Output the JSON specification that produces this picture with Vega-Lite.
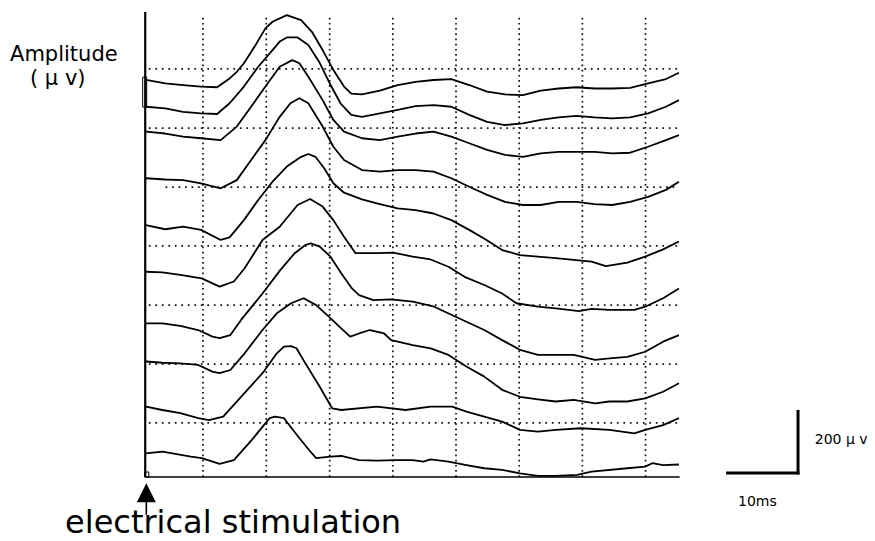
{
  "$schema": "https://vega.github.io/schema/vega-lite/v6.json",
  "width": 875,
  "height": 541,
  "autosize": {"type": "none"},
  "padding": 0,
  "background": "white",
  "config": {"view": {"stroke": null}},
  "datasets": {
    "traces": [
      {"trace": 1, "t": 0.1, "v": 1248}, {"trace": 1, "t": 2.76, "v": 1237}, {"trace": 1, "t": 5.22, "v": 1232}, {"trace": 1, "t": 7.68, "v": 1227}, {"trace": 1, "t": 9.9, "v": 1225}, {"trace": 1, "t": 11.62, "v": 1253}, {"trace": 1, "t": 12.61, "v": 1274}, {"trace": 1, "t": 13.59, "v": 1301}, {"trace": 1, "t": 15.07, "v": 1354}, {"trace": 1, "t": 16.55, "v": 1412}, {"trace": 1, "t": 17.53, "v": 1433}, {"trace": 1, "t": 19.5, "v": 1454}, {"trace": 1, "t": 21.47, "v": 1438}, {"trace": 1, "t": 22.95, "v": 1401}, {"trace": 1, "t": 24.43, "v": 1343}, {"trace": 1, "t": 25.91, "v": 1280}, {"trace": 1, "t": 27.38, "v": 1227}, {"trace": 1, "t": 28.37, "v": 1205}, {"trace": 1, "t": 29.85, "v": 1202}, {"trace": 1, "t": 32.31, "v": 1214}, {"trace": 1, "t": 34.77, "v": 1232}, {"trace": 1, "t": 37.23, "v": 1242}, {"trace": 1, "t": 39.7, "v": 1248}, {"trace": 1, "t": 42.16, "v": 1251}, {"trace": 1, "t": 44.62, "v": 1232}, {"trace": 1, "t": 47.08, "v": 1211}, {"trace": 1, "t": 49.55, "v": 1202}, {"trace": 1, "t": 52.01, "v": 1200}, {"trace": 1, "t": 54.47, "v": 1214}, {"trace": 1, "t": 56.93, "v": 1221}, {"trace": 1, "t": 59.4, "v": 1225}, {"trace": 1, "t": 61.86, "v": 1221}, {"trace": 1, "t": 64.32, "v": 1221}, {"trace": 1, "t": 66.78, "v": 1223}, {"trace": 1, "t": 69.25, "v": 1237}, {"trace": 1, "t": 71.71, "v": 1251}, {"trace": 1, "t": 73.5, "v": 1271},
      {"trace": 2, "t": 0.1, "v": 1163}, {"trace": 2, "t": 2.76, "v": 1158}, {"trace": 2, "t": 5.22, "v": 1147}, {"trace": 2, "t": 7.68, "v": 1142}, {"trace": 2, "t": 9.9, "v": 1140}, {"trace": 2, "t": 11.62, "v": 1174}, {"trace": 2, "t": 13.59, "v": 1227}, {"trace": 2, "t": 15.56, "v": 1290}, {"trace": 2, "t": 17.53, "v": 1343}, {"trace": 2, "t": 18.52, "v": 1370}, {"trace": 2, "t": 19.5, "v": 1383}, {"trace": 2, "t": 20.98, "v": 1383}, {"trace": 2, "t": 22.46, "v": 1359}, {"trace": 2, "t": 23.94, "v": 1306}, {"trace": 2, "t": 25.41, "v": 1237}, {"trace": 2, "t": 26.89, "v": 1174}, {"trace": 2, "t": 28.37, "v": 1137}, {"trace": 2, "t": 29.85, "v": 1131}, {"trace": 2, "t": 32.31, "v": 1142}, {"trace": 2, "t": 34.77, "v": 1153}, {"trace": 2, "t": 37.23, "v": 1165}, {"trace": 2, "t": 39.7, "v": 1168}, {"trace": 2, "t": 42.16, "v": 1163}, {"trace": 2, "t": 44.62, "v": 1137}, {"trace": 2, "t": 47.08, "v": 1115}, {"trace": 2, "t": 49.55, "v": 1105}, {"trace": 2, "t": 52.01, "v": 1110}, {"trace": 2, "t": 54.47, "v": 1121}, {"trace": 2, "t": 56.93, "v": 1129}, {"trace": 2, "t": 59.4, "v": 1134}, {"trace": 2, "t": 61.86, "v": 1129}, {"trace": 2, "t": 64.32, "v": 1126}, {"trace": 2, "t": 66.78, "v": 1129}, {"trace": 2, "t": 69.25, "v": 1142}, {"trace": 2, "t": 71.71, "v": 1163}, {"trace": 2, "t": 73.5, "v": 1184},
      {"trace": 3, "t": 0.1, "v": 1084}, {"trace": 3, "t": 2.76, "v": 1078}, {"trace": 3, "t": 5.22, "v": 1068}, {"trace": 3, "t": 7.68, "v": 1063}, {"trace": 3, "t": 10.39, "v": 1057}, {"trace": 3, "t": 12.61, "v": 1100}, {"trace": 3, "t": 14.58, "v": 1163}, {"trace": 3, "t": 16.55, "v": 1227}, {"trace": 3, "t": 18.52, "v": 1290}, {"trace": 3, "t": 20.24, "v": 1311}, {"trace": 3, "t": 21.23, "v": 1301}, {"trace": 3, "t": 22.46, "v": 1258}, {"trace": 3, "t": 24.43, "v": 1184}, {"trace": 3, "t": 25.91, "v": 1121}, {"trace": 3, "t": 27.38, "v": 1084}, {"trace": 3, "t": 29.85, "v": 1063}, {"trace": 3, "t": 32.31, "v": 1057}, {"trace": 3, "t": 34.77, "v": 1068}, {"trace": 3, "t": 37.23, "v": 1078}, {"trace": 3, "t": 39.7, "v": 1084}, {"trace": 3, "t": 42.16, "v": 1068}, {"trace": 3, "t": 44.62, "v": 1047}, {"trace": 3, "t": 47.08, "v": 1026}, {"trace": 3, "t": 49.55, "v": 1010}, {"trace": 3, "t": 52.01, "v": 1004}, {"trace": 3, "t": 54.47, "v": 1015}, {"trace": 3, "t": 56.93, "v": 1020}, {"trace": 3, "t": 59.4, "v": 1020}, {"trace": 3, "t": 61.86, "v": 1020}, {"trace": 3, "t": 64.32, "v": 1015}, {"trace": 3, "t": 66.78, "v": 1017}, {"trace": 3, "t": 69.25, "v": 1036}, {"trace": 3, "t": 71.71, "v": 1057}, {"trace": 3, "t": 73.5, "v": 1073},
      {"trace": 4, "t": 0.1, "v": 936}, {"trace": 4, "t": 2.76, "v": 932}, {"trace": 4, "t": 5.22, "v": 930}, {"trace": 4, "t": 7.68, "v": 920}, {"trace": 4, "t": 10.39, "v": 904}, {"trace": 4, "t": 12.61, "v": 930}, {"trace": 4, "t": 14.58, "v": 994}, {"trace": 4, "t": 16.55, "v": 1057}, {"trace": 4, "t": 18.52, "v": 1131}, {"trace": 4, "t": 20.0, "v": 1174}, {"trace": 4, "t": 21.23, "v": 1190}, {"trace": 4, "t": 22.46, "v": 1174}, {"trace": 4, "t": 24.43, "v": 1100}, {"trace": 4, "t": 25.91, "v": 1036}, {"trace": 4, "t": 27.38, "v": 994}, {"trace": 4, "t": 29.85, "v": 962}, {"trace": 4, "t": 32.31, "v": 957}, {"trace": 4, "t": 34.77, "v": 962}, {"trace": 4, "t": 37.23, "v": 962}, {"trace": 4, "t": 39.7, "v": 957}, {"trace": 4, "t": 42.16, "v": 936}, {"trace": 4, "t": 44.62, "v": 909}, {"trace": 4, "t": 47.08, "v": 883}, {"trace": 4, "t": 49.55, "v": 861}, {"trace": 4, "t": 52.01, "v": 851}, {"trace": 4, "t": 54.47, "v": 851}, {"trace": 4, "t": 56.93, "v": 861}, {"trace": 4, "t": 59.4, "v": 861}, {"trace": 4, "t": 61.86, "v": 854}, {"trace": 4, "t": 64.32, "v": 851}, {"trace": 4, "t": 66.78, "v": 861}, {"trace": 4, "t": 69.25, "v": 877}, {"trace": 4, "t": 71.71, "v": 899}, {"trace": 4, "t": 73.5, "v": 925},
      {"trace": 5, "t": 0.1, "v": 787}, {"trace": 5, "t": 2.76, "v": 774}, {"trace": 5, "t": 5.22, "v": 782}, {"trace": 5, "t": 7.68, "v": 772}, {"trace": 5, "t": 10.39, "v": 740}, {"trace": 5, "t": 11.62, "v": 748}, {"trace": 5, "t": 13.59, "v": 803}, {"trace": 5, "t": 15.56, "v": 867}, {"trace": 5, "t": 17.53, "v": 925}, {"trace": 5, "t": 19.5, "v": 973}, {"trace": 5, "t": 21.47, "v": 1004}, {"trace": 5, "t": 22.46, "v": 1013}, {"trace": 5, "t": 23.44, "v": 1004}, {"trace": 5, "t": 24.67, "v": 967}, {"trace": 5, "t": 25.91, "v": 920}, {"trace": 5, "t": 27.38, "v": 890}, {"trace": 5, "t": 29.85, "v": 869}, {"trace": 5, "t": 32.31, "v": 854}, {"trace": 5, "t": 34.77, "v": 840}, {"trace": 5, "t": 37.23, "v": 835}, {"trace": 5, "t": 39.7, "v": 824}, {"trace": 5, "t": 42.16, "v": 803}, {"trace": 5, "t": 44.62, "v": 772}, {"trace": 5, "t": 47.0, "v": 740}, {"trace": 5, "t": 49.15, "v": 708}, {"trace": 5, "t": 51.61, "v": 692}, {"trace": 5, "t": 56.54, "v": 682}, {"trace": 5, "t": 61.46, "v": 671}, {"trace": 5, "t": 63.43, "v": 657}, {"trace": 5, "t": 66.39, "v": 668}, {"trace": 5, "t": 68.85, "v": 687}, {"trace": 5, "t": 71.32, "v": 710}, {"trace": 5, "t": 73.5, "v": 735},
      {"trace": 6, "t": 0.1, "v": 639}, {"trace": 6, "t": 2.36, "v": 637}, {"trace": 6, "t": 4.83, "v": 629}, {"trace": 6, "t": 7.78, "v": 618}, {"trace": 6, "t": 10.24, "v": 592}, {"trace": 6, "t": 12.21, "v": 608}, {"trace": 6, "t": 13.69, "v": 650}, {"trace": 6, "t": 16.15, "v": 740}, {"trace": 6, "t": 18.52, "v": 782}, {"trace": 6, "t": 20.98, "v": 851}, {"trace": 6, "t": 22.7, "v": 870}, {"trace": 6, "t": 24.43, "v": 846}, {"trace": 6, "t": 25.91, "v": 803}, {"trace": 6, "t": 27.38, "v": 750}, {"trace": 6, "t": 28.96, "v": 698}, {"trace": 6, "t": 31.91, "v": 698}, {"trace": 6, "t": 34.13, "v": 700}, {"trace": 6, "t": 36.84, "v": 687}, {"trace": 6, "t": 39.3, "v": 678}, {"trace": 6, "t": 41.76, "v": 655}, {"trace": 6, "t": 43.98, "v": 623}, {"trace": 6, "t": 46.69, "v": 597}, {"trace": 6, "t": 49.15, "v": 570}, {"trace": 6, "t": 51.12, "v": 539}, {"trace": 6, "t": 54.08, "v": 528}, {"trace": 6, "t": 56.54, "v": 523}, {"trace": 6, "t": 59.74, "v": 514}, {"trace": 6, "t": 61.46, "v": 521}, {"trace": 6, "t": 63.93, "v": 518}, {"trace": 6, "t": 67.37, "v": 518}, {"trace": 6, "t": 68.85, "v": 528}, {"trace": 6, "t": 71.32, "v": 555}, {"trace": 6, "t": 73.5, "v": 586},
      {"trace": 7, "t": 0.1, "v": 475}, {"trace": 7, "t": 2.36, "v": 475}, {"trace": 7, "t": 4.83, "v": 467}, {"trace": 7, "t": 7.29, "v": 454}, {"trace": 7, "t": 9.26, "v": 433}, {"trace": 7, "t": 10.24, "v": 428}, {"trace": 7, "t": 11.72, "v": 438}, {"trace": 7, "t": 13.2, "v": 486}, {"trace": 7, "t": 16.15, "v": 570}, {"trace": 7, "t": 18.62, "v": 645}, {"trace": 7, "t": 20.59, "v": 698}, {"trace": 7, "t": 22.06, "v": 724}, {"trace": 7, "t": 22.8, "v": 729}, {"trace": 7, "t": 24.03, "v": 719}, {"trace": 7, "t": 25.51, "v": 687}, {"trace": 7, "t": 26.99, "v": 634}, {"trace": 7, "t": 28.47, "v": 586}, {"trace": 7, "t": 29.45, "v": 565}, {"trace": 7, "t": 31.42, "v": 549}, {"trace": 7, "t": 33.88, "v": 551}, {"trace": 7, "t": 36.84, "v": 544}, {"trace": 7, "t": 39.79, "v": 528}, {"trace": 7, "t": 42.75, "v": 496}, {"trace": 7, "t": 46.69, "v": 454}, {"trace": 7, "t": 49.15, "v": 422}, {"trace": 7, "t": 51.61, "v": 391}, {"trace": 7, "t": 54.08, "v": 375}, {"trace": 7, "t": 56.54, "v": 375}, {"trace": 7, "t": 59.0, "v": 375}, {"trace": 7, "t": 61.96, "v": 359}, {"trace": 7, "t": 63.93, "v": 364}, {"trace": 7, "t": 66.39, "v": 369}, {"trace": 7, "t": 68.85, "v": 385}, {"trace": 7, "t": 71.32, "v": 417}, {"trace": 7, "t": 73.5, "v": 438},
      {"trace": 8, "t": 0.1, "v": 354}, {"trace": 8, "t": 2.36, "v": 350}, {"trace": 8, "t": 4.83, "v": 348}, {"trace": 8, "t": 7.29, "v": 343}, {"trace": 8, "t": 9.26, "v": 322}, {"trace": 8, "t": 10.24, "v": 317}, {"trace": 8, "t": 11.72, "v": 327}, {"trace": 8, "t": 13.69, "v": 380}, {"trace": 8, "t": 16.15, "v": 454}, {"trace": 8, "t": 18.12, "v": 507}, {"trace": 8, "t": 20.09, "v": 539}, {"trace": 8, "t": 21.82, "v": 555}, {"trace": 8, "t": 23.54, "v": 533}, {"trace": 8, "t": 25.02, "v": 502}, {"trace": 8, "t": 26.99, "v": 459}, {"trace": 8, "t": 28.22, "v": 433}, {"trace": 8, "t": 29.45, "v": 443}, {"trace": 8, "t": 30.93, "v": 454}, {"trace": 8, "t": 32.9, "v": 443}, {"trace": 8, "t": 33.88, "v": 422}, {"trace": 8, "t": 36.84, "v": 406}, {"trace": 8, "t": 39.3, "v": 396}, {"trace": 8, "t": 41.76, "v": 375}, {"trace": 8, "t": 44.23, "v": 338}, {"trace": 8, "t": 46.69, "v": 306}, {"trace": 8, "t": 49.15, "v": 264}, {"trace": 8, "t": 51.61, "v": 242}, {"trace": 8, "t": 54.08, "v": 234}, {"trace": 8, "t": 56.54, "v": 227}, {"trace": 8, "t": 59.0, "v": 232}, {"trace": 8, "t": 61.96, "v": 221}, {"trace": 8, "t": 63.93, "v": 227}, {"trace": 8, "t": 66.39, "v": 227}, {"trace": 8, "t": 68.85, "v": 237}, {"trace": 8, "t": 71.32, "v": 258}, {"trace": 8, "t": 73.5, "v": 285},
      {"trace": 9, "t": 0.1, "v": 211}, {"trace": 9, "t": 2.36, "v": 200}, {"trace": 9, "t": 4.83, "v": 190}, {"trace": 9, "t": 7.29, "v": 174}, {"trace": 9, "t": 8.77, "v": 168}, {"trace": 9, "t": 10.74, "v": 179}, {"trace": 9, "t": 13.2, "v": 242}, {"trace": 9, "t": 16.15, "v": 317}, {"trace": 9, "t": 18.12, "v": 380}, {"trace": 9, "t": 19.11, "v": 401}, {"trace": 9, "t": 20.09, "v": 403}, {"trace": 9, "t": 20.83, "v": 396}, {"trace": 9, "t": 22.06, "v": 348}, {"trace": 9, "t": 24.03, "v": 274}, {"trace": 9, "t": 25.76, "v": 205}, {"trace": 9, "t": 26.99, "v": 200}, {"trace": 9, "t": 31.91, "v": 211}, {"trace": 9, "t": 35.85, "v": 200}, {"trace": 9, "t": 39.3, "v": 211}, {"trace": 9, "t": 42.26, "v": 211}, {"trace": 9, "t": 44.23, "v": 195}, {"trace": 9, "t": 46.69, "v": 179}, {"trace": 9, "t": 49.15, "v": 163}, {"trace": 9, "t": 51.61, "v": 137}, {"trace": 9, "t": 54.08, "v": 131}, {"trace": 9, "t": 56.54, "v": 137}, {"trace": 9, "t": 59.99, "v": 142}, {"trace": 9, "t": 63.93, "v": 137}, {"trace": 9, "t": 67.37, "v": 126}, {"trace": 9, "t": 68.85, "v": 137}, {"trace": 9, "t": 71.32, "v": 152}, {"trace": 9, "t": 73.5, "v": 174},
      {"trace": 10, "t": 0.1, "v": 62}, {"trace": 10, "t": 2.36, "v": 68}, {"trace": 10, "t": 6.3, "v": 52}, {"trace": 10, "t": 7.78, "v": 47}, {"trace": 10, "t": 10.24, "v": 29}, {"trace": 10, "t": 12.21, "v": 41}, {"trace": 10, "t": 14.68, "v": 105}, {"trace": 10, "t": 17.14, "v": 174}, {"trace": 10, "t": 17.88, "v": 179}, {"trace": 10, "t": 19.11, "v": 174}, {"trace": 10, "t": 21.08, "v": 115}, {"trace": 10, "t": 22.56, "v": 73}, {"trace": 10, "t": 23.54, "v": 47}, {"trace": 10, "t": 25.51, "v": 52}, {"trace": 10, "t": 26.99, "v": 54}, {"trace": 10, "t": 29.45, "v": 41}, {"trace": 10, "t": 31.91, "v": 39}, {"trace": 10, "t": 34.38, "v": 41}, {"trace": 10, "t": 36.84, "v": 41}, {"trace": 10, "t": 38.31, "v": 36}, {"trace": 10, "t": 39.3, "v": 43}, {"trace": 10, "t": 41.76, "v": 36}, {"trace": 10, "t": 44.23, "v": 25}, {"trace": 10, "t": 46.69, "v": 15}, {"trace": 10, "t": 49.15, "v": 10}, {"trace": 10, "t": 51.61, "v": -1}, {"trace": 10, "t": 54.08, "v": -9}, {"trace": 10, "t": 56.54, "v": -9}, {"trace": 10, "t": 59.49, "v": -6}, {"trace": 10, "t": 61.46, "v": 4}, {"trace": 10, "t": 66.39, "v": 15}, {"trace": 10, "t": 68.85, "v": 20}, {"trace": 10, "t": 69.83, "v": 31}, {"trace": 10, "t": 71.32, "v": 25}, {"trace": 10, "t": 73.5, "v": 27}
    ]
  },
  "encoding": {
    "x": {"field": "t", "type": "quantitative", "scale": {"domain": [-20, 100.5], "nice": false, "zero": false}, "axis": null},
    "y": {"field": "v", "type": "quantitative", "scale": {"domain": [-216, 1502], "nice": false, "zero": false}, "axis": null}
  },
  "layer": [
    {
      "data": {"values": [{"t": 7.95, "v": -12.7, "v2": 1457}, {"t": 16.67, "v": -12.7, "v2": 1457}, {"t": 25.4, "v": -12.7, "v2": 1457}, {"t": 34.1, "v": -12.7, "v2": 1457}, {"t": 42.8, "v": -12.7, "v2": 1457}, {"t": 51.5, "v": -12.7, "v2": 1457}, {"t": 60.2, "v": -12.7, "v2": 1457}, {"t": 68.9, "v": -12.7, "v2": 1457}]},
      "mark": {"type": "rule", "color": "#111", "strokeWidth": 1.7, "strokeDash": [1.7, 3.5]},
      "encoding": {"y2": {"field": "v2"}}
    },
    {
      "data": {"values": [{"v": 1283, "t": 0.5, "t2": 73.5}, {"v": 1095, "t": 0.5, "t2": 73.5}, {"v": 908, "t": 2.8, "t2": 73.5}, {"v": 721, "t": 0.5, "t2": 73.5}, {"v": 533, "t": 0.5, "t2": 73.5}, {"v": 346, "t": 0.5, "t2": 73.5}, {"v": 159, "t": 0.5, "t2": 73.5}]},
      "mark": {"type": "rule", "color": "#111", "strokeWidth": 1.7, "strokeDash": [1.7, 4.8]},
      "encoding": {"x2": {"field": "t2"}}
    },
    {
      "data": {"values": [{"t": 0, "v": -13, "v2": 1464}]},
      "mark": {"type": "rule", "color": "#000", "strokeWidth": 2.2},
      "encoding": {"y2": {"field": "v2"}}
    },
    {
      "data": {"values": [{"t": 0, "t2": 73.6, "v": -12.7}]},
      "mark": {"type": "rule", "color": "#000", "strokeWidth": 1.6},
      "encoding": {"x2": {"field": "t2"}}
    },
    {
      "data": {"values": [{"t": -0.35, "t2": 0.2, "v": 1162, "v2": 1257}, {"t": -0.1, "t2": 0.5, "v": -12.7, "v2": 3}]},
      "mark": {"type": "rect", "fill": null, "fillOpacity": 0, "stroke": "#000", "strokeWidth": 1},
      "encoding": {"x2": {"field": "t2"}, "y2": {"field": "v2"}}
    },
    {
      "data": {"name": "traces"},
      "mark": {"type": "line", "color": "#000", "strokeWidth": 1.8, "strokeJoin": "round"},
      "encoding": {"detail": {"field": "trace", "type": "nominal"}}
    },
    {
      "data": {"values": [{"t": 80, "t2": 90.1, "v": 0}]},
      "mark": {"type": "rule", "color": "#000", "strokeWidth": 3},
      "encoding": {"x2": {"field": "t2"}}
    },
    {
      "data": {"values": [{"t": 89.9, "v": -4.8, "v2": 200}]},
      "mark": {"type": "rule", "color": "#000", "strokeWidth": 3},
      "encoding": {"y2": {"field": "v2"}}
    },
    {
      "data": {"values": [{"t": 0.15, "v": -70, "v2": -133}]},
      "mark": {"type": "rule", "color": "#000", "strokeWidth": 1.6},
      "encoding": {"y2": {"field": "v2"}}
    },
    {
      "data": {"values": [{"t": 0.15, "v": -63}]},
      "mark": {"type": "point", "shape": "M-1,1L1,1L0,-1Z", "size": 361, "filled": true, "color": "#000", "opacity": 1, "strokeWidth": 0}
    },
    {
      "data": {"values": [{"t": -18.62, "v": 1308, "label": "Amplitude"}, {"t": -15.87, "v": 1232, "label": "( μ v)"}]},
      "mark": {"type": "text", "align": "left", "baseline": "alphabetic", "font": "DejaVu Sans", "fontSize": 21, "color": "#000"},
      "encoding": {"text": {"field": "label"}}
    },
    {
      "data": {"values": [{"t": 92.2, "v": 105, "label": "200 μ v"}]},
      "mark": {"type": "text", "align": "left", "baseline": "middle", "font": "DejaVu Sans", "fontSize": 14, "color": "#000"},
      "encoding": {"text": {"field": "label"}}
    },
    {
      "data": {"values": [{"t": 84.3, "v": -92, "label": "10ms"}]},
      "mark": {"type": "text", "align": "center", "baseline": "middle", "font": "DejaVu Sans", "fontSize": 14, "color": "#000"},
      "encoding": {"text": {"field": "label"}}
    },
    {
      "data": {"values": [{"t": 12.1, "v": -190, "label": "electrical stimulation"}]},
      "mark": {"type": "text", "align": "center", "baseline": "alphabetic", "font": "DejaVu Sans", "fontSize": 32, "color": "#000"},
      "encoding": {"text": {"field": "label"}}
    }
  ]
}
